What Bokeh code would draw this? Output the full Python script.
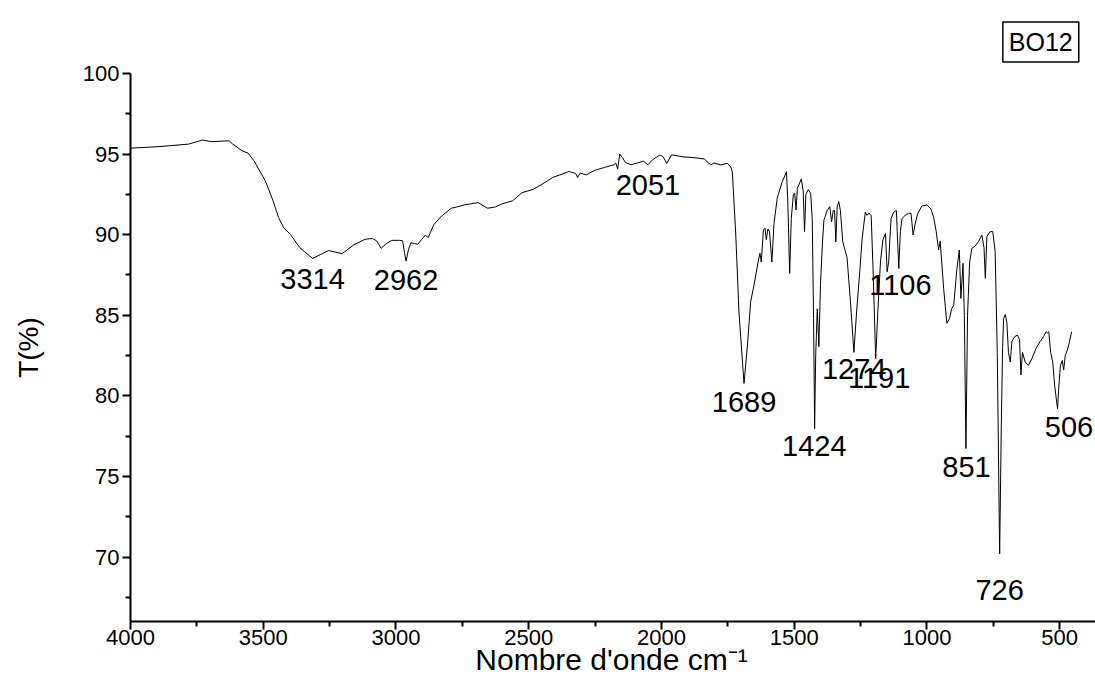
from bokeh.plotting import figure
from bokeh.models import Range1d, FixedTicker, Label, LabelSet, ColumnDataSource
from bokeh.embed import file_html
from bokeh.resources import INLINE
from bokeh.core.properties import value

# IR spectrum of BO12 (wavenumber in cm-1, transmittance in %)
wavenumber = [
    4000, 3896, 3781, 3730, 3694, 3629, 3615, 3579, 3557, 3535, 3492, 3463, 3442, 3423, 3398,
    3362, 3314, 3283, 3254, 3203, 3160, 3117, 3088, 3072, 3056, 3037, 3016, 2987, 2975, 2968,
    2962, 2954, 2944, 2930, 2918, 2903, 2889, 2879, 2857, 2828, 2792, 2771, 2742, 2691, 2655,
    2626, 2597, 2561, 2525, 2482, 2439, 2410, 2367, 2349, 2323, 2316, 2306, 2283, 2251, 2215,
    2179, 2172, 2165, 2157, 2147, 2136, 2114, 2085, 2067, 2051, 2035, 2006, 1994, 1980, 1962,
    1919, 1877, 1839, 1814, 1802, 1777, 1752, 1739, 1733, 1720, 1708, 1689, 1676, 1664, 1651,
    1636, 1629, 1624, 1616, 1610, 1605, 1599, 1593, 1584, 1576, 1564, 1545, 1529, 1524, 1517,
    1511, 1503, 1498, 1493, 1488, 1473, 1466, 1461, 1456, 1447, 1438, 1432, 1427, 1423, 1419,
    1413, 1407, 1401, 1394, 1388, 1376, 1366, 1359, 1353, 1348, 1343, 1338, 1332, 1326, 1317,
    1307, 1301, 1288, 1275, 1265, 1253, 1244, 1232, 1226, 1219, 1210, 1203, 1193, 1185, 1175,
    1166, 1156, 1150, 1144, 1140, 1135, 1125, 1115, 1106, 1100, 1094, 1081, 1069, 1060, 1052,
    1044, 1035, 1019, 1000, 985, 975, 965, 956, 950, 937, 925, 915, 907, 899, 887,
    878, 872, 864, 859, 853, 847, 839, 831, 818, 806, 793, 785, 780, 774, 762,
    752, 743, 735, 726, 720, 715, 711, 705, 699, 693, 686, 680, 670, 659, 651,
    646, 640, 630, 618, 605, 589, 574, 561, 551, 546, 541, 534, 526, 519, 508,
    503, 497, 490, 485, 479, 471, 463, 455,
]
transmittance = [
    95.37, 95.46, 95.62, 95.87, 95.77, 95.83, 95.62, 95.20, 95.06, 94.59, 93.34, 92.10, 91.06, 90.44, 90.02,
    89.19, 88.53, 88.78, 89.02, 88.82, 89.36, 89.71, 89.77, 89.60, 89.15, 89.44, 89.65, 89.65, 89.62, 88.88,
    88.36, 89.00, 89.50, 89.45, 89.40, 89.71, 89.98, 89.81, 90.64, 91.16, 91.64, 91.72, 91.85, 91.99, 91.64,
    91.72, 91.93, 92.10, 92.61, 92.82, 93.24, 93.55, 93.80, 93.92, 93.80, 93.55, 93.82, 93.71, 94.00, 94.17,
    94.34, 94.45, 94.07, 95.00, 94.79, 94.48, 94.34, 94.48, 94.55, 94.34, 94.63, 94.94, 94.85, 94.42, 94.96,
    94.83, 94.78, 94.70, 94.33, 94.45, 94.33, 94.43, 94.20, 93.90, 89.98, 85.20, 80.77, 83.15, 85.84, 86.90,
    88.30, 88.84, 88.30, 90.30, 90.40, 89.70, 90.35, 90.20, 88.30, 90.70, 92.26, 93.29, 93.90, 92.05, 87.60,
    91.00, 92.50, 92.57, 91.53, 92.88, 93.46, 92.70, 90.19, 92.50, 92.80, 92.57, 91.00, 84.80, 77.97, 82.50,
    85.40, 83.05, 86.90, 89.36, 90.90, 91.50, 91.74, 90.80, 91.50, 91.50, 89.56, 91.74, 92.05, 91.50, 89.56,
    88.95, 88.60, 85.84, 82.70, 85.20, 87.70, 89.77, 91.40, 91.20, 91.33, 91.20, 87.90, 82.30, 85.20, 88.30,
    89.67, 90.08, 87.70, 88.30, 89.60, 91.00, 91.40, 91.50, 87.90, 90.20, 91.00, 91.22, 91.33, 91.33, 89.98,
    90.70, 91.30, 91.78, 91.85, 91.60, 91.10, 90.20, 89.05, 89.60, 86.67, 84.50, 84.80, 85.40, 85.63, 87.90,
    89.05, 86.05, 88.22, 85.00, 76.73, 85.00, 88.30, 89.15, 89.30, 89.56, 89.98, 89.20, 87.29, 89.90, 90.19,
    90.19, 88.95, 82.70, 70.20, 78.00, 83.00, 84.80, 85.05, 84.60, 82.70, 82.10, 83.36, 83.67, 83.77, 83.50,
    81.30, 82.70, 82.10, 81.90, 82.30, 82.94, 83.36, 83.67, 83.98, 83.90, 83.98, 82.70, 82.10, 80.66, 79.20,
    80.60, 81.90, 82.20, 81.60, 82.50, 82.84, 83.36, 83.98,
]

peak_text = ["3314", "2962", "2051", "1689", "1424", "1274", "1191", "1106", "851", "726", "506"]
peak_label_x = [3314, 2962, 2051, 1689, 1424, 1274, 1180, 1100, 851, 726, 465]
peak_label_y = [87.28, 87.16, 93.11, 79.59, 76.86, 81.64, 81.14, 86.85, 75.56, 67.93, 78.04]

x_major = [4000, 3500, 3000, 2500, 2000, 1500, 1000, 500]
x_minor = [3750, 3250, 2750, 2250, 1750, 1250, 750]
y_major = [70, 75, 80, 85, 90, 95, 100]
y_minor = [67.5, 72.5, 77.5, 82.5, 87.5, 92.5, 97.5]
x_axis_span = (365, 4000)
y_axis_span = (66, 100)

FONT = "Liberation Sans"

p = figure(width=1095, height=676, output_backend="svg", toolbar_location=None, title=None,
           x_range=Range1d(4489.7, 365), y_range=Range1d(62.59, 104.53),
           min_border_left=0, min_border_right=0, min_border_top=0, min_border_bottom=0)
p.grid.visible = False
p.outline_line_color = None
p.background_fill_color = "white"
p.border_fill_color = "white"

p.line(wavenumber, transmittance, line_color="black", line_width=1)

for ax in (p.xaxis[0], p.yaxis[0]):
    ax.axis_line_width = 2
    ax.axis_line_color = "black"
    ax.major_tick_line_width = 2
    ax.minor_tick_line_width = 2
    ax.major_tick_line_color = "black"
    ax.minor_tick_line_color = "black"
    ax.major_tick_in = 0
    ax.major_tick_out = 8
    ax.minor_tick_in = 0
    ax.minor_tick_out = 5
    ax.major_label_text_font = FONT
    ax.major_label_text_font_size = "22px"
    ax.major_label_text_color = "black"

p.xaxis[0].major_label_standoff = 0
p.yaxis[0].major_label_standoff = 3
p.xaxis[0].fixed_location = y_axis_span[0]
p.xaxis[0].bounds = x_axis_span
p.yaxis[0].fixed_location = x_axis_span[1]
p.yaxis[0].bounds = y_axis_span

p.xaxis[0].ticker = FixedTicker(ticks=x_major, minor_ticks=x_minor)
p.yaxis[0].ticker = FixedTicker(ticks=y_major, minor_ticks=y_minor)

p.yaxis[0].axis_label = "T(%)"
p.yaxis[0].axis_label_text_font = FONT
p.yaxis[0].axis_label_text_font_size = "28px"
p.yaxis[0].axis_label_text_font_style = "normal"
p.yaxis[0].axis_label_text_color = "black"
p.yaxis[0].axis_label_standoff = 36

src = ColumnDataSource(dict(x=peak_label_x, y=peak_label_y, t=peak_text))
p.add_layout(LabelSet(x="x", y="y", text="t", source=src, text_align="center",
                      text_baseline="middle", text_font=value(FONT), text_font_size=value("29px"),
                      text_color=value("black")))

p.add_layout(Label(x=2188, y=63.62, text="Nombre d'onde cm\u207b\u00b9", text_align="center",
                   text_baseline="alphabetic", text_font=FONT, text_font_size="30px",
                   text_color="black"))

p.add_layout(Label(x=571, y=101.95, text="BO12", text_align="center", text_baseline="middle",
                   text_font=FONT, text_font_size="25px", text_color="black",
                   border_line_color="black", border_line_width=1.5,
                   background_fill_color="white", padding=6))

open("out.html", "w").write(file_html(p, INLINE))
